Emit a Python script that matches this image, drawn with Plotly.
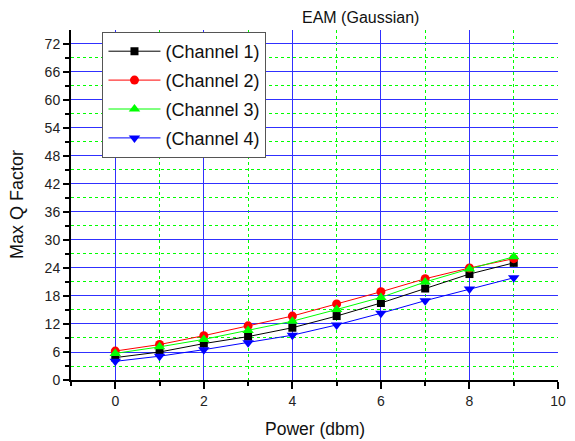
import plotly.graph_objects as go

# Data
power = [0, 1, 2, 3, 4, 5, 6, 7, 8, 9]
channel_1 = [4.8, 6.0, 7.8, 9.3, 11.2, 13.7, 16.5, 19.6, 22.7, 25.1]
channel_2 = [6.2, 7.6, 9.5, 11.6, 13.7, 16.3, 18.9, 21.7, 24.0, 26.0]
channel_3 = [5.7, 7.1, 8.7, 10.6, 12.6, 15.1, 17.7, 21.0, 23.8, 26.4]
channel_4 = [4.0, 5.1, 6.5, 8.0, 9.6, 11.8, 14.3, 17.0, 19.5, 21.9]

series_names = ["(Channel 1)", "(Channel 2)", "(Channel 3)", "(Channel 4)"]
series_values = [channel_1, channel_2, channel_3, channel_4]
colors = ["#000000", "#ff0000", "#00ff00", "#0000ff"]
symbols = ["square", "circle", "triangle-up", "triangle-down"]
marker_sizes = [8, 9, 10, 10]

FONT = "Liberation Sans, Arial, sans-serif"

# The page body keeps the browser's default 8px margin, so the figure is
# sized to fill the remaining 567x433 area of the 575x441 window.
fig = go.Figure()
for i, (name, vals) in enumerate(zip(series_names, series_values)):
    fig.add_trace(go.Scatter(
        x=power, y=vals, name=name, mode="lines+markers",
        line=dict(color=colors[i], width=1),
        marker=dict(symbol=symbols[i], color=colors[i], size=marker_sizes[i]),
        legendgroup=f"g{i}",
    ))

fig.update_layout(
    width=567, height=433,
    margin=dict(l=63, r=9, t=22, b=61),
    plot_bgcolor="white", paper_bgcolor="white",
    font=dict(family=FONT, size=14, color="#222222"),
    showlegend=True,
    legend=dict(
        x=(103 - 71) / 495, y=1 - 2 / 350, xanchor="left", yanchor="top",
        bgcolor="white", bordercolor="#555555", borderwidth=1,
        font=dict(family=FONT, size=18, color="#111111"),
        traceorder="grouped", tracegroupgap=2.5,
        itemwidth=52, entrywidth=100,
    ),
)

fig.update_xaxes(
    range=[-1, 10], tick0=0, dtick=2,
    showline=True, linecolor="black", linewidth=2,
    ticks="outside", ticklen=7, tickwidth=1.5, tickcolor="black",
    showgrid=True, gridcolor="#3030ff", gridwidth=1, zeroline=False,
    tickfont=dict(family=FONT, size=14, color="#222222"),
    minor=dict(dtick=1, tick0=0, ticks="outside", ticklen=4, tickwidth=1.5,
               tickcolor="black", showgrid=True, gridcolor="#00ff00",
               griddash="dot", gridwidth=1),
)
fig.update_yaxes(
    range=[0, 74.99], tick0=0, dtick=6,
    showline=True, linecolor="black", linewidth=2,
    ticks="outside", ticklen=6, tickwidth=1.5, tickcolor="black",
    showgrid=True, gridcolor="#3030ff", gridwidth=1, zeroline=False,
    tickfont=dict(family=FONT, size=14, color="#222222"),
    minor=dict(dtick=3, tick0=0, ticks="outside", ticklen=4, tickwidth=1.5,
               tickcolor="black", showgrid=True, gridcolor="#00ff00",
               griddash="dot", gridwidth=1),
)

fig.add_annotation(text="EAM (Gaussian)", xref="paper", yref="paper",
                   x=(365 - 71) / 495, y=1, yshift=12.5, showarrow=False,
                   xanchor="center", yanchor="middle",
                   font=dict(family=FONT, size=16, color="#111111"))
fig.add_annotation(text="Power (dbm)", xref="paper", yref="paper", x=0.5, y=0,
                   yshift=-49, showarrow=False, xanchor="center", yanchor="middle",
                   font=dict(family=FONT, size=17.5, color="#111111"))
fig.add_annotation(text="Max Q Factor", xref="paper", yref="paper", x=0, y=0.5,
                   xshift=-54, textangle=-90, showarrow=False,
                   xanchor="center", yanchor="middle",
                   font=dict(family=FONT, size=18, color="#111111"))

fig.write_html("out.html")
